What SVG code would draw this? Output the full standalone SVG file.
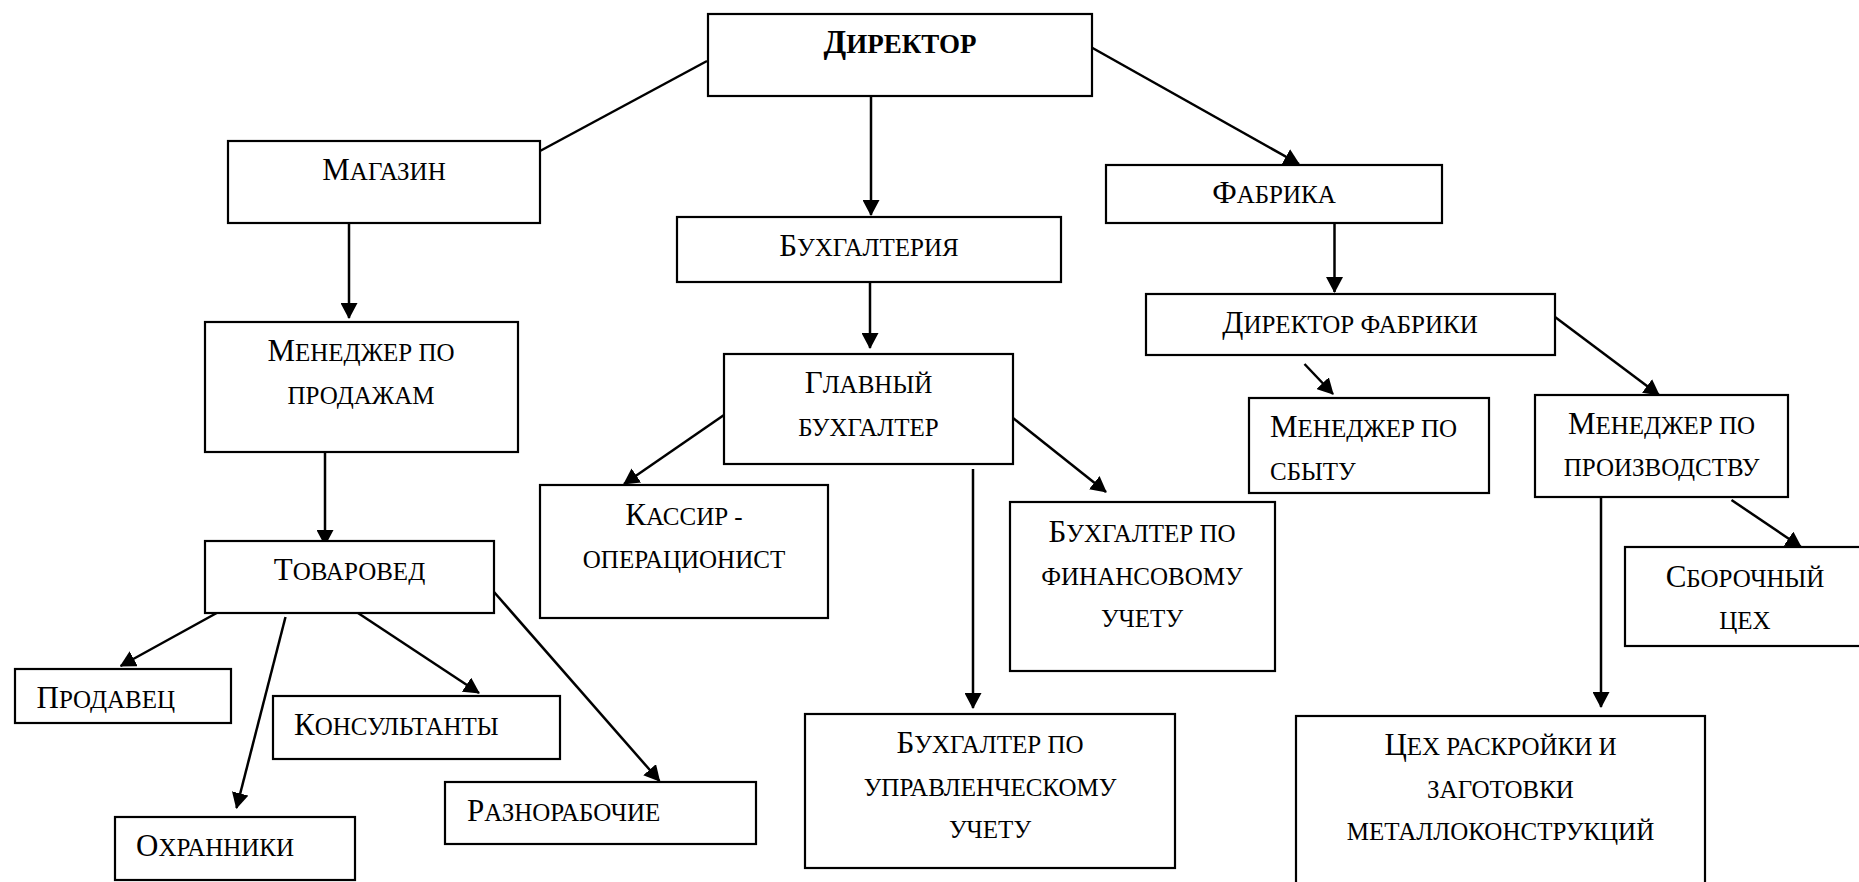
<svg xmlns="http://www.w3.org/2000/svg" width="1859" height="882" viewBox="0 0 1859 882">
<defs>
<style>
.box{fill:#fff;stroke:#000;stroke-width:2.2}
.t{font-family:"Liberation Serif","Times New Roman",serif;font-size:31px;fill:#000}
.s{font-size:25px}
.c{text-anchor:middle}
.b{font-weight:bold}
.conn line{stroke:#000;stroke-width:2.5;fill:none}
.conn line.a{marker-end:url(#arr)}
</style>
<marker id="arr" viewBox="0 0 16 17" refX="15" refY="8.5" markerWidth="16" markerHeight="17" markerUnits="userSpaceOnUse" orient="auto">
<path d="M0,0 L16,8.5 L0,17 z" fill="#000"/>
</marker>
</defs>
<rect width="1859" height="882" fill="#fff"/>
<g id="connectors" class="conn">
<line x1="707" y1="61" x2="540" y2="151"/>
<line class="a" x1="871" y1="96" x2="871" y2="215"/>
<line class="a" x1="1089" y1="46" x2="1299" y2="164"/>
<line class="a" x1="349" y1="223" x2="349" y2="318"/>
<line class="a" x1="870" y1="282" x2="870" y2="348"/>
<line class="a" x1="1334.5" y1="221" x2="1334.5" y2="292"/>
<line class="a" x1="325" y1="452" x2="325" y2="545"/>
<line class="a" x1="724" y1="415" x2="624" y2="484"/>
<line class="a" x1="1013" y1="418" x2="1106" y2="492"/>
<line class="a" x1="973" y1="469" x2="973" y2="708"/>
<line class="a" x1="1304.5" y1="364" x2="1333" y2="394"/>
<line class="a" x1="1555" y1="317" x2="1659" y2="395"/>
<line class="a" x1="1601" y1="492" x2="1601" y2="707"/>
<line class="a" x1="1731.5" y1="500" x2="1801" y2="547"/>
<line class="a" x1="216.7" y1="613" x2="120.6" y2="666"/>
<line class="a" x1="285.5" y1="617" x2="236.5" y2="808"/>
<line class="a" x1="358" y1="613" x2="479" y2="693"/>
<line class="a" x1="494" y1="592" x2="659.5" y2="781"/>
</g>
<g id="director">
<rect class="box" x="708" y="14" width="384" height="82"/>
<text class="t c b" x="900" y="53" style="font-size:33px">Д<tspan style="font-size:27px">ИРЕКТОР</tspan></text>
</g>
<g id="magazin">
<rect class="box" x="228" y="141" width="312" height="82"/>
<text class="t c" x="384" y="180">М<tspan class="s">АГАЗИН</tspan></text>
</g>
<g id="buhgalteriya">
<rect class="box" x="677" y="217" width="384" height="65"/>
<text class="t c" x="869" y="256">Б<tspan class="s">УХГАЛТЕРИЯ</tspan></text>
</g>
<g id="fabrika">
<rect class="box" x="1106" y="165" width="336" height="58"/>
<text class="t c" x="1274" y="203">Ф<tspan class="s">АБРИКА</tspan></text>
</g>
<g id="director-fabriki">
<rect class="box" x="1146" y="294" width="409" height="61"/>
<text class="t c" x="1350" y="333">Д<tspan class="s">ИРЕКТОР ФАБРИКИ</tspan></text>
</g>
<g id="manager-prodazh">
<rect class="box" x="205" y="322" width="313" height="130"/>
<text class="t c" x="361" y="361">М<tspan class="s">ЕНЕДЖЕР ПО</tspan><tspan class="s" x="361" y="403.5">ПРОДАЖАМ</tspan></text>
</g>
<g id="glavbuh">
<rect class="box" x="724" y="354" width="289" height="110"/>
<text class="t c" x="868.5" y="393">Г<tspan class="s">ЛАВНЫЙ</tspan><tspan class="s" x="868.5" y="435.5">БУХГАЛТЕР</tspan></text>
</g>
<g id="manager-sbyt">
<rect class="box" x="1249" y="398" width="240" height="95"/>
<text class="t" x="1270" y="437">М<tspan class="s">ЕНЕДЖЕР ПО</tspan><tspan class="s" x="1270" y="479.5">СБЫТУ</tspan></text>
</g>
<g id="manager-proizv">
<rect class="box" x="1535" y="395" width="253" height="102"/>
<text class="t c" x="1661.5" y="433.5">М<tspan class="s">ЕНЕДЖЕР ПО</tspan><tspan class="s" x="1661.5" y="476">ПРОИЗВОДСТВУ</tspan></text>
</g>
<g id="kassir">
<rect class="box" x="540" y="485" width="288" height="133"/>
<text class="t c" x="684" y="525">К<tspan class="s">АССИР -</tspan><tspan class="s" x="684" y="567.5">ОПЕРАЦИОНИСТ</tspan></text>
</g>
<g id="buh-fin">
<rect class="box" x="1010" y="502" width="265" height="169"/>
<text class="t c" x="1142" y="542">Б<tspan class="s">УХГАЛТЕР ПО</tspan><tspan class="s" x="1142" y="584.5">ФИНАНСОВОМУ</tspan><tspan class="s" x="1142" y="627">УЧЕТУ</tspan></text>
</g>
<g id="buh-upr">
<rect class="box" x="805" y="714" width="370" height="154"/>
<text class="t c" x="990" y="753">Б<tspan class="s">УХГАЛТЕР ПО</tspan><tspan class="s" x="990" y="795.5">УПРАВЛЕНЧЕСКОМУ</tspan><tspan class="s" x="990" y="838">УЧЕТУ</tspan></text>
</g>
<g id="tovaroved">
<rect class="box" x="205" y="541" width="289" height="72"/>
<text class="t c" x="349.5" y="580">Т<tspan class="s">ОВАРОВЕД</tspan></text>
</g>
<g id="prodavec">
<rect class="box" x="15" y="669" width="216" height="54"/>
<text class="t" x="36.5" y="708">П<tspan class="s">РОДАВЕЦ</tspan></text>
</g>
<g id="konsultanty">
<rect class="box" x="273" y="696" width="287" height="63"/>
<text class="t" x="294" y="735">К<tspan class="s">ОНСУЛЬТАНТЫ</tspan></text>
</g>
<g id="ohranniki">
<rect class="box" x="115" y="817" width="240" height="63"/>
<text class="t" x="136" y="856">О<tspan class="s">ХРАННИКИ</tspan></text>
</g>
<g id="raznorabochie">
<rect class="box" x="445" y="782" width="311" height="62"/>
<text class="t" x="467" y="821">Р<tspan class="s">АЗНОРАБОЧИЕ</tspan></text>
</g>
<g id="sborochny">
<rect class="box" x="1625" y="547" width="250" height="99"/>
<text class="t c" x="1745" y="586.5">С<tspan class="s">БОРОЧНЫЙ</tspan><tspan class="s" x="1745" y="629">ЦЕХ</tspan></text>
</g>
<g id="ceh-raskroiki">
<rect class="box" x="1296" y="716" width="409" height="180"/>
<text class="t c" x="1500.5" y="755">Ц<tspan class="s">ЕХ РАСКРОЙКИ И</tspan><tspan class="s" x="1500.5" y="797.5">ЗАГОТОВКИ</tspan><tspan class="s" x="1500.5" y="840">МЕТАЛЛОКОНСТРУКЦИЙ</tspan></text>
</g>
</svg>
